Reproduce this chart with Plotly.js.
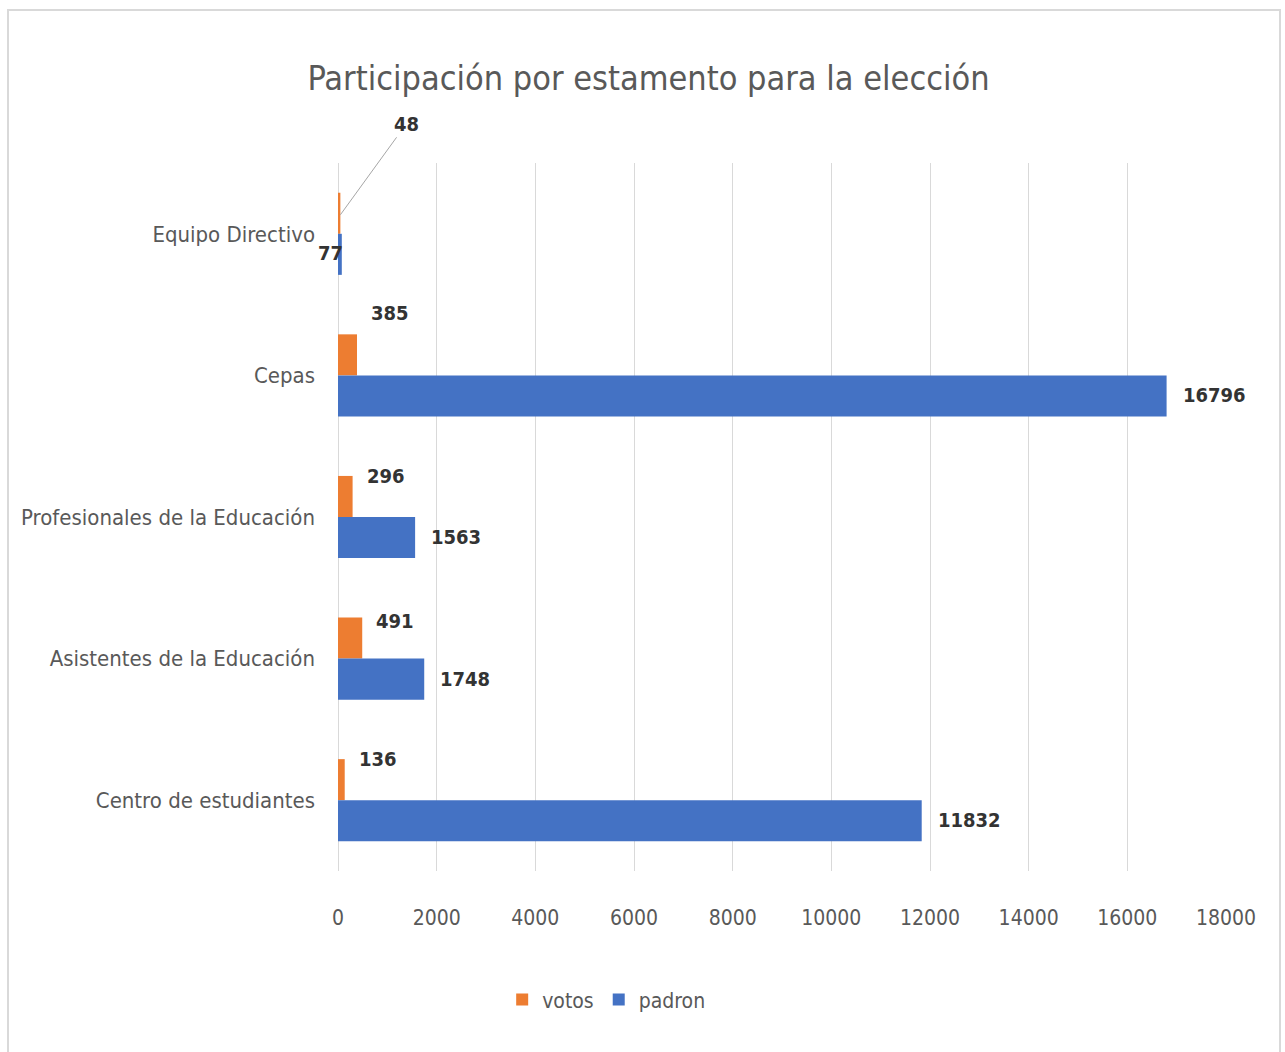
<!DOCTYPE html>
<html>
<head>
<meta charset="utf-8">
<script src="https://cdn.plot.ly/plotly-3.0.1.min.js"></script>
<style>
  html, body { margin: 0; padding: 0; background: #ffffff; }
  #wrap { position: relative; width: 1285px; height: 1052px; overflow: hidden; }
  #chart { position: absolute; left: 0; top: 0; width: 1285px; height: 1052px; }
  #frame { position: absolute; left: 7px; top: 9px; width: 1274px; height: 1050px;
           border: 2px solid #d9d9d9; box-sizing: border-box; pointer-events: none; }
</style>
</head>
<body>
<div id="wrap">
  <div id="chart"></div>
  <div id="frame"></div>
</div>
<script>
// ---- data (top to bottom as shown) ----
const categories = [
  "Equipo Directivo",
  "Cepas",
  "Profesionales de la Educación",
  "Asistentes de la Educación",
  "Centro de estudiantes"
];
const votos  = [48, 385, 296, 491, 136];
const padron = [77, 16796, 1563, 1748, 11832];
const seriesNames = ["votos", "padron"];
const xTicks = [0, 2000, 4000, 6000, 8000, 10000, 12000, 14000, 16000, 18000];
const titleText = "Participación por estamento para la elección";

// ---- styling ----
const FONT = '"Liberation Sans Narrow", "DejaVu Sans Condensed", "Roboto Condensed", sans-serif';
const ORANGE = "#ED7D31";
const BLUE = "#4472C4";
const LABEL_COLOR = "#333333";
const AXIS_TEXT = "#595959";
// vertical lift (px) of each votos label above its category centre
const votosLift = [0, 62, 41, 38, 41];

const traces = [
  { type: "bar", orientation: "h", name: seriesNames[0], y: categories, x: votos,
    marker: { color: ORANGE }, hoverinfo: "x+name" },
  { type: "bar", orientation: "h", name: seriesNames[1], y: categories, x: padron,
    marker: { color: BLUE }, hoverinfo: "x+name" }
];

const labelFont = { family: FONT, size: 20, color: LABEL_COLOR, weight: "bold" };
const annotations = [];
categories.forEach((c, i) => {
  if (i === 0) {
    // callout with leader line for the tiny "votos" bar
    annotations.push({
      x: votos[i], y: c, xref: "x", yref: "y", text: String(votos[i]),
      showarrow: true, arrowhead: 0, arrowwidth: 1, arrowcolor: "#a6a6a6",
      standoff: 0, ax: 66, ay: -91, yshift: 19, font: labelFont
    });
    annotations.push({
      x: padron[i], y: c, xref: "x", yref: "y", text: String(padron[i]),
      showarrow: false, xanchor: "right", yanchor: "middle", xshift: 3, yshift: -19,
      font: labelFont
    });
  } else {
    annotations.push({
      x: votos[i], y: c, xref: "x", yref: "y", text: String(votos[i]),
      showarrow: false, xanchor: "left", yanchor: "middle", xshift: 12, yshift: votosLift[i],
      font: labelFont
    });
    annotations.push({
      x: padron[i], y: c, xref: "x", yref: "y", text: String(padron[i]),
      showarrow: false, xanchor: "left", yanchor: "middle", xshift: 14, yshift: -20,
      font: labelFont
    });
  }
});

const layout = {
  width: 1285, height: 1052,
  margin: { l: 338, r: 59, t: 163, b: 181, pad: 0 },
  paper_bgcolor: "rgba(0,0,0,0)",
  plot_bgcolor: "#ffffff",
  font: { family: FONT, color: AXIS_TEXT },
  title: {
    text: titleText,
    x: 0.5047, xref: "container", xanchor: "center",
    y: 0.926, yref: "container", yanchor: "middle",
    font: { family: FONT, size: 34, color: AXIS_TEXT }
  },
  barmode: "group",
  bargap: 0.42,
  bargroupgap: 0,
  xaxis: {
    range: [0, 18000],
    tickvals: xTicks,
    ticktext: xTicks.map(String),
    showgrid: true, gridcolor: "#d9d9d9", gridwidth: 1,
    zeroline: true, zerolinecolor: "#d9d9d9", zerolinewidth: 1,
    showline: false, ticks: "",
    ticklabelstandoff: 32,
    tickfont: { family: FONT, size: 21, color: AXIS_TEXT },
    fixedrange: true
  },
  yaxis: {
    type: "category",
    categoryorder: "array", categoryarray: categories,
    autorange: "reversed",
    showgrid: false, zeroline: false, showline: false, ticks: "",
    ticklabelstandoff: 22,
    tickfont: { family: FONT, size: 22, color: AXIS_TEXT },
    fixedrange: true
  },
  showlegend: true,
  legend: {
    orientation: "h", x: 0.302, xanchor: "center", y: -0.182, yanchor: "middle",
    font: { family: FONT, size: 21, color: AXIS_TEXT },
    itemclick: false, itemdoubleclick: false, tracegroupgap: 0, itemwidth: 30
  },
  annotations: annotations
};

Plotly.newPlot("chart", traces, layout, { displayModeBar: false, staticPlot: false });
</script>
</body>
</html>
